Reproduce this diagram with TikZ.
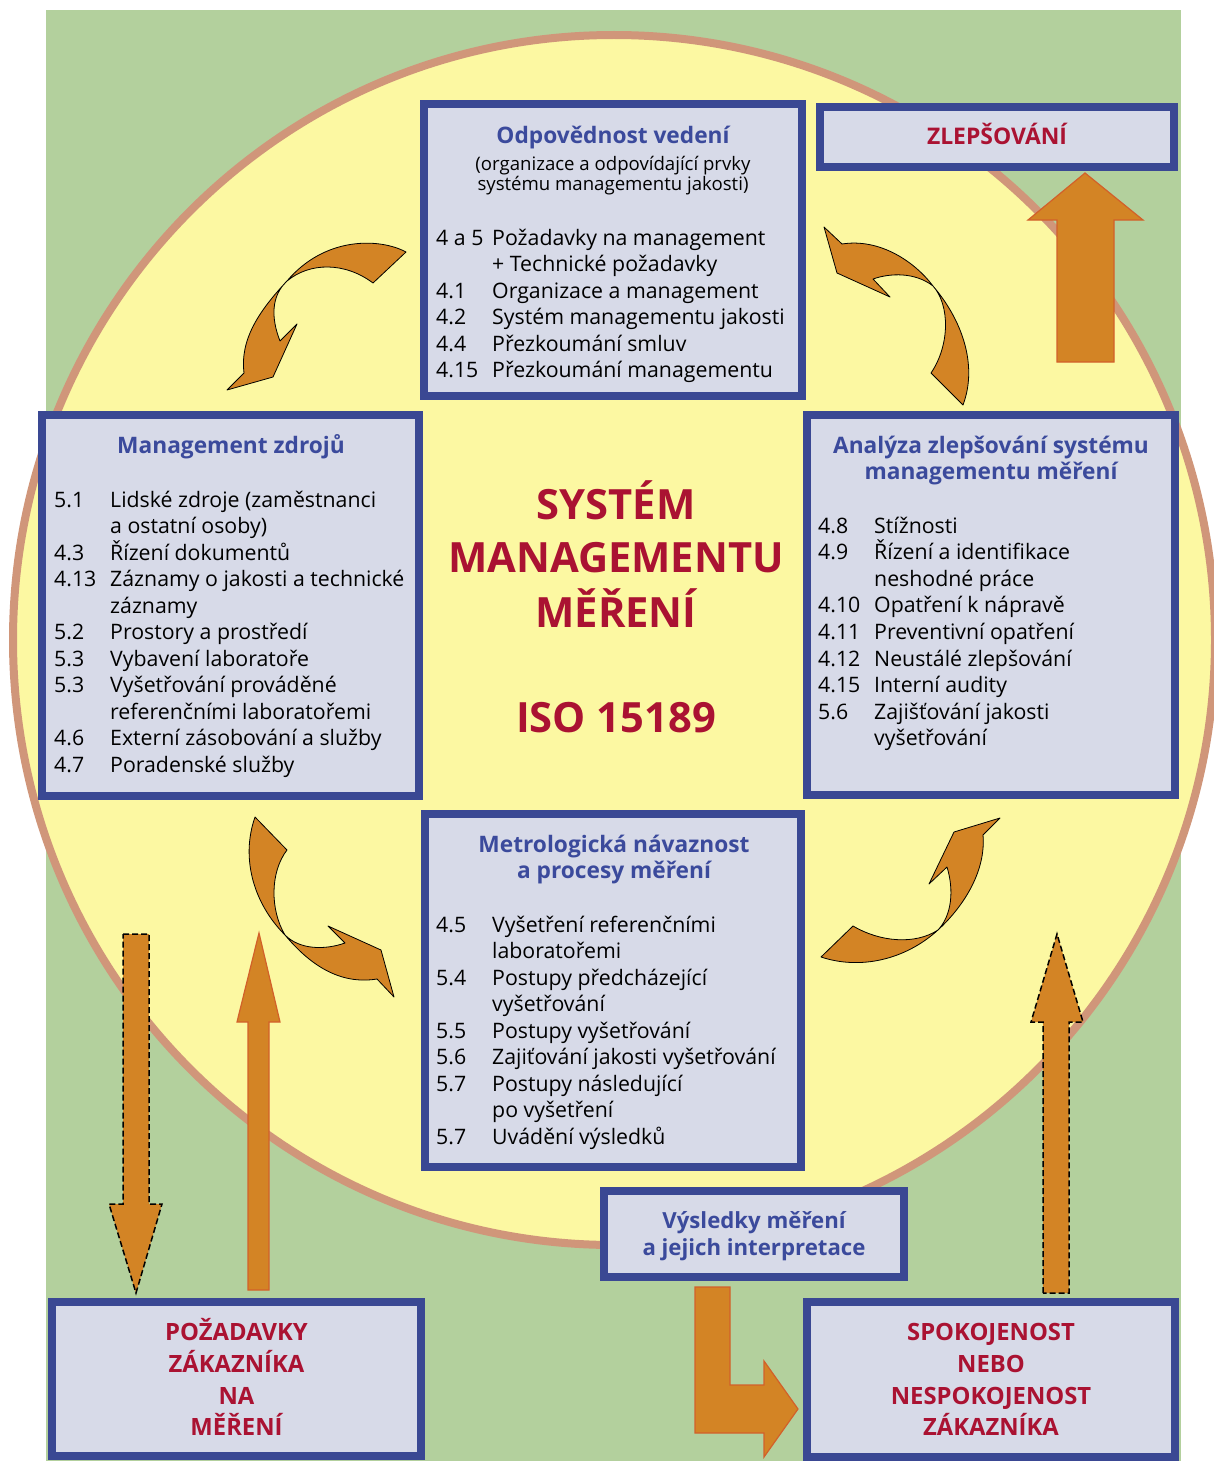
\documentclass[tikz,border=0pt]{standalone}
\usepackage{fontspec}
\setmainfont{Open Sans}
\definecolor{bggreen}{HTML}{B3D09D}
\definecolor{cyellow}{HTML}{FCF8A2}
\definecolor{cring}{HTML}{D0967A}
\definecolor{boxblue}{HTML}{3A4893}
\definecolor{boxfill}{HTML}{D7DAE8}
\definecolor{ttlblue}{HTML}{3B4A9C}
\definecolor{dred}{HTML}{AA1232}
\definecolor{orfill}{HTML}{D38425}
\definecolor{orline}{HTML}{D2602A}
\begin{document}
\begin{tikzpicture}[x=1pt,y=-1pt,
  box/.style={draw=boxblue, fill=boxfill, line width=8pt, inner sep=0pt, outer sep=0pt},
  ttl/.style={font=\fontsize{22.7pt}{26pt}\selectfont\bfseries, text=ttlblue, anchor=base, inner sep=0pt},
  subt/.style={font=\fontsize{18.6pt}{20pt}\selectfont, anchor=base, inner sep=0pt},
  itm/.style={font=\fontsize{21.3pt}{24pt}\selectfont, anchor=base west, inner sep=0pt},
  big/.style={font=\fontsize{41.7pt}{48pt}\selectfont\bfseries, text=dred, anchor=base, inner sep=0pt},
  redt/.style={font=\fontsize{23.8pt}{28pt}\selectfont\bfseries, text=dred, anchor=base, inner sep=0pt},
  curv/.style={fill=orfill, draw=black, line width=0.8pt, line join=round},
  solidar/.style={fill=orfill, draw=orline, line width=1.2pt},
  dashar/.style={fill=orfill, draw=black, line width=1.5pt, dash pattern=on 6pt off 3pt}
]
\useasboundingbox (0,0) rectangle (1213,1461);
\fill[white] (0,0) rectangle (1213,1461);
\fill[bggreen] (46,10) rectangle (1181,1461);
% circle
\draw[cring, fill=cyellow, line width=8pt] (614,640) ellipse[x radius=601pt, y radius=605pt];

% boxes
\node[box, minimum width=378pt, minimum height=292pt] (topbox) at (613,250) {};
\node[box, minimum width=377pt, minimum height=381pt] (leftbox) at (230.5,605.5) {};
\node[box, minimum width=368pt, minimum height=380pt] (rightbox) at (991,605) {};
\node[box, minimum width=376pt, minimum height=353pt] (midbox) at (613,990.5) {};
\node[box, minimum width=354pt, minimum height=60pt] (zlepbox) at (997,137) {};
\node[box, minimum width=300pt, minimum height=86pt] (vysbox) at (754,1234) {};
\node[box, minimum width=369pt, minimum height=154pt] (pozbox) at (236.5,1379) {};
\node[box, minimum width=368pt, minimum height=155pt] (spokbox) at (991,1379.5) {};

% curved arrows
\draw[curv] (406,252) .. controls (380,238) and (325,236) .. (287,281)
  .. controls (258,312) and (240,340) .. (244,373) -- (227,390) -- (273,377) -- (297,324) -- (280,341)
  .. controls (271,318) and (271,296) .. (287,281)
  .. controls (310,262) and (345,262) .. (373,283) -- cycle;
\draw[curv] (842,244) .. controls (880,238) and (915,262) .. (933,286)
  .. controls (962,320) and (978,365) .. (963,405) -- (931,373)
  .. controls (950,345) and (950,305) .. (933,286)
  .. controls (915,272) and (890,273) .. (873,279) -- (890,297) -- (837,273) -- (824,227) -- cycle;
\draw[curv] (255,817) -- (287,850) .. controls (270,872) and (270,910) .. (285,935)
  .. controls (300,950) and (325,950) .. (345,943) -- (328,926) -- (381,950) -- (394,997) -- (377,979)
  .. controls (340,985) and (310,965) .. (285,935)
  .. controls (255,905) and (240,860) .. (255,817) -- cycle;
\draw[curv] (821,957) -- (853,926) .. controls (880,942) and (915,945) .. (938,930)
  .. controls (952,915) and (954,890) .. (947,867) -- (929,884) -- (954,832) -- (1000,818) -- (983,835)
  .. controls (986,870) and (965,905) .. (938,930)
  .. controls (905,960) and (860,970) .. (821,957) -- cycle;

% straight arrows
\draw[solidar] (1057,362) -- (1057,220) -- (1028,220) -- (1085,173) -- (1143,220) -- (1114,220) -- (1114,362) -- cycle;
\draw[dashar] (123,934) -- (149,934) -- (149,1204) -- (162,1204) -- (136,1293) -- (109,1204) -- (123,1204) -- cycle;
\draw[solidar] (248,1290) -- (248,1022) -- (237,1022) -- (259,933) -- (280,1022) -- (269,1022) -- (269,1290) -- cycle;
\draw[dashar] (1043,1293) -- (1043,1022) -- (1031,1022) -- (1057,934) -- (1083,1022) -- (1069,1022) -- (1069,1293) -- cycle;
\draw[solidar] (695,1287) -- (730,1287) -- (730,1385) -- (764,1385) -- (764,1361) -- (798,1409) -- (764,1457) -- (764,1433) -- (695,1433) -- cycle;

% top box text
\node[ttl] (t1) at (613,143) {Odpovědnost vedení};
\node[subt] (t2) at (613,170) {(organizace a odpovídající prvky};
\node[subt] (t3) at (613,190.5) {systému managementu jakosti)};
\foreach \n/\t [count=\i from 0] in {{4 a 5}/{Požadavky na management}, {}/{+ Technické požadavky},
  {4.1}/{Organizace a management}, {4.2}/{Systém managementu jakosti},
  {4.4}/{Přezkoumání smluv}, {4.15}/{Přezkoumání managementu}}{
  \node[itm] (tn\i) at (436,{245+26.5*\i}) {\n};
  \node[itm] (tt\i) at (492,{245+26.5*\i}) {\t};
}

% left box text
\node[ttl] (l1) at (231,453) {Management zdrojů};
\foreach \n/\t [count=\i from 0] in {{5.1}/{Lidské zdroje (zaměstnanci}, {}/{a ostatní osoby)},
  {4.3}/{Řízení dokumentů}, {4.13}/{Záznamy o jakosti a technické}, {}/{záznamy},
  {5.2}/{Prostory a prostředí}, {5.3}/{Vybavení laboratoře}, {5.3}/{Vyšetřování prováděné},
  {}/{referenčními laboratořemi}, {4.6}/{Externí zásobování a služby}, {4.7}/{Poradenské služby}}{
  \node[itm] (ln\i) at (54,{507+26.5*\i}) {\n};
  \node[itm] (lt\i) at (110,{507+26.5*\i}) {\t};
}

% right box text
\node[ttl] (r1) at (991,453) {Analýza zlepšování systému};
\node[ttl] (r2) at (991,479) {managementu měření};
\foreach \n/\t [count=\i from 0] in {{4.8}/{Stížnosti}, {4.9}/{Řízení a identifikace}, {}/{neshodné práce},
  {4.10}/{Opatření k nápravě}, {4.11}/{Preventivní opatření}, {4.12}/{Neustálé zlepšování},
  {4.15}/{Interní audity}, {5.6}/{Zajišťování jakosti}, {}/{vyšetřování}}{
  \node[itm] (rn\i) at (818,{533+26.6*\i}) {\n};
  \node[itm] (rt\i) at (874,{533+26.6*\i}) {\t};
}

% middle box text
\node[ttl] (m1) at (614,852) {Metrologická návaznost};
\node[ttl] (m2) at (614,878) {a procesy měření};
\foreach \n/\t [count=\i from 0] in {{4.5}/{Vyšetření referenčními}, {}/{laboratořemi},
  {5.4}/{Postupy předcházející}, {}/{vyšetřování}, {5.5}/{Postupy vyšetřování},
  {5.6}/{Zajiťování jakosti vyšetřování}, {5.7}/{Postupy následující}, {}/{po vyšetření},
  {5.7}/{Uvádění výsledků}}{
  \node[itm] (mn\i) at (436,{932+26.5*\i}) {\n};
  \node[itm] (mt\i) at (492,{932+26.5*\i}) {\t};
}

% centre
\node[big] (c1) at (616,519) {SYSTÉM};
\node[big] (c2) at (616,572) {MANAGEMENTU};
\node[big] (c3) at (616,627) {MĚŘENÍ};
\node[big] (c4) at (616,732) {ISO 15189};

% other boxes
\node[redt, font=\fontsize{22.9pt}{26pt}\selectfont\bfseries] (z1) at (997,144) {ZLEPŠOVÁNÍ};
\node[ttl, font=\fontsize{22.2pt}{26pt}\selectfont\bfseries] (v1) at (754,1228) {Výsledky měření};
\node[ttl, font=\fontsize{22.2pt}{26pt}\selectfont\bfseries] (v2) at (754,1255) {a jejich interpretace};
\node[redt] (p1) at (236.5,1340) {POŽADAVKY};
\node[redt] (p2) at (236.5,1372) {ZÁKAZNÍKA};
\node[redt] (p3) at (236.5,1404) {NA};
\node[redt] (p4) at (236.5,1435.5) {MĚŘENÍ};
\node[redt] (s1) at (991,1340) {SPOKOJENOST};
\node[redt] (s2) at (991,1372) {NEBO};
\node[redt] (s3) at (991,1404) {NESPOKOJENOST};
\node[redt] (s4) at (991,1435.5) {ZÁKAZNÍKA};
\end{tikzpicture}
\end{document}
